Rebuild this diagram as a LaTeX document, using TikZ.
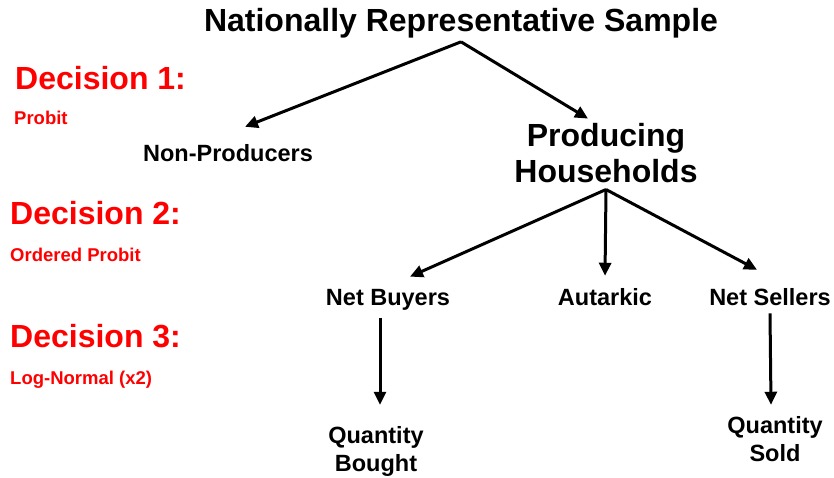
\documentclass[tikz,border=0pt]{standalone}
\usepackage{fontspec}
\setmainfont{Liberation Sans}
\usetikzlibrary{positioning, arrows.meta}

\begin{document}
\begin{tikzpicture}[x=1pt, y=-1pt, inner sep=0pt,
    big/.style={font=\fontsize{32}{36}\selectfont\bfseries, align=center},
    small/.style={font=\fontsize{23.5}{28}\selectfont\bfseries, align=center},
    decision/.style={font=\fontsize{32}{36}\selectfont\bfseries, text=red, anchor=base west},
    method/.style={font=\fontsize{18.5}{22}\selectfont\bfseries, text=red, anchor=base west},
    branch/.style={-{Triangle[length=13pt, width=12pt]}, line width=3pt}]
    \useasboundingbox (0,0) rectangle (834,478);

    % left column: the decisions
    \node[decision] (D1) at (15,90) {Decision 1:};
    \node[method] (M1) at (14,125) {Probit};
    \node[decision] (D2) at (10,225) {Decision 2:};
    \node[method] (M2) at (10,261) {Ordered Probit};
    \node[decision] (D3) at (10,347) {Decision 3:};
    \node[method] (M3) at (10,384) {Log-Normal (x2)};

    % the tree
    \node[big, anchor=base] (NRS) at (461,32) {Nationally Representative Sample};
    \node[small, anchor=base] (NP) at (228,162) {Non-Producers};
    \node[big, anchor=base] (PH) at (606,183) {Producing\\Households};
    \node[small, anchor=base] (NB) at (388,305) {Net Buyers};
    \node[small, anchor=base] (AU) at (605,305) {Autarkic};
    \node[small, anchor=base] (NS) at (770,305) {Net Sellers};
    \node[small, anchor=base] (QB) at (376,471) {Quantity\\Bought};
    \node[small, anchor=base] (QS) at (775,461) {Quantity\\Sold};

    \draw[branch] ([yshift=-3pt]NRS.south) -- ([xshift=17pt, yshift=18pt]NP.north);
    \draw[branch] ([yshift=-3pt]NRS.south) -- ([xshift=-18pt, yshift=5pt]PH.north);
    \draw[branch] ([yshift=-6pt]PH.south) -- ([xshift=22pt, yshift=12pt]NB.north);
    \draw[branch] ([yshift=-6pt]PH.south) -- ([yshift=12pt]AU.north);
    \draw[branch] ([yshift=-6pt]PH.south) -- ([xshift=-13pt, yshift=18pt]NS.north);
    \draw[branch] ([xshift=-8pt, yshift=-8pt]NB.south) -- ([xshift=4pt, yshift=21pt]QB.north);
    \draw[branch] ([yshift=-8pt]NS.south) -- ([xshift=-4pt, yshift=11pt]QS.north);
\end{tikzpicture}
\end{document}
